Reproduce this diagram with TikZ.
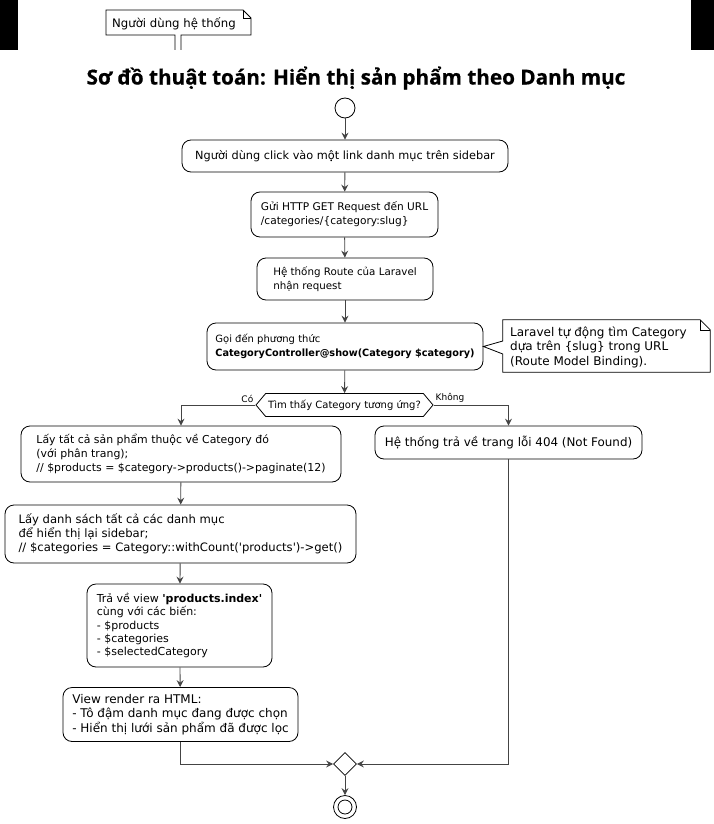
\documentclass[tikz,border=0pt]{standalone}
\usepackage{fontspec}
\setmainfont{DejaVu Sans}
\newfontfamily\nolig{DejaVu Sans}[Ligatures=ResetAll]
\newfontfamily\titlefont[BoldFeatures={FakeBold=0.6}]{Open Sans}
\usetikzlibrary{arrows.meta,shapes.geometric,shapes.symbols,calc}
\definecolor{linecol}{HTML}{444444}
\newcommand\fs[2]{\fontsize{#1}{#2}\selectfont}
\newcommand\sq{{\nolig\char39}}
\tikzset{
  box/.style={draw=black, fill=white, rounded corners=9pt, line width=0.8pt, align=left, inner sep=0pt},
  flow/.style={draw=linecol, line width=0.9pt, -{Stealth[length=7pt,width=7pt,inset=2.5pt]}},
  notebox/.style={draw=black, line width=0.8pt},
  lbl/.style={font=\fs{9}{11}, inner sep=1pt}
}
\begin{document}
\begin{tikzpicture}[x=1pt,y=-1pt]
\useasboundingbox (0,0) rectangle (714,824);
\fill[white] (0,0) rectangle (714,824);
% black bars
\fill[black] (0,0) rectangle (18,50);
\fill[black] (691,0) rectangle (714,50);
% top note
\draw[notebox] (175,50) -- (175,35) -- (106,35) -- (106,10) -- (243,10) -- (251,18) -- (251,35) -- (181,35) -- (181,50);
\draw[black, line width=0.6pt] (243,10) -- (243,18) -- (251,18);
\node[font=\fs{11.7}{13}, inner sep=0pt, anchor=base west] (unote) at (112,28) {Người dùng hệ thống};
% title
\node[font=\titlefont\bfseries\fs{20.7}{24}, inner sep=0pt] (title) at (356,78)
  {Sơ đồ thuật toán: Hiển thị sản phẩm theo Danh mục};
% start
\node[circle, draw=black, line width=0.8pt, minimum size=20pt, inner sep=0pt] (start) at (345,108) {};
\node[box, font=\fs{11.3}{14}, minimum width=326pt, minimum height=32pt] (n1) at (345,156)
  {Người dùng click vào một link danh mục trên sidebar};
\node[box, font=\fs{10.6}{14}, minimum width=187pt, minimum height=45pt] (n2) at (344.5,214.5)
  {Gửi HTTP GET Request đến URL\\/categories/\{category:slug\}};
\node[box, font=\fs{10.3}{14}, minimum width=176pt, minimum height=42pt] (n3) at (345,279)
  {Hệ thống Route của Laravel\\nhận request};
\node[box, font=\fs{10}{14}, minimum width=276pt, minimum height=47pt] (n4) at (345,346.5)
  {Gọi đến phương thức\\\scalebox{0.97}[1]{\textbf{CategoryController@show(Category \$category)}}};
% side note
\node[inner sep=0pt, minimum width=207pt, minimum height=52pt] (snote) at (606.5,346) {};
\draw[notebox, fill=white] (snote.north west) -- ($(snote.north east)+(-10,0)$) -- ($(snote.north east)+(0,10)$)
  -- (snote.south east) -- (snote.south west) -- ($(snote.west)+(0,8)$) -- (n4.east)
  -- ($(snote.west)+(0,-5)$) -- cycle;
\draw[black, line width=0.6pt] ($(snote.north east)+(-10,0)$) -- ($(snote.north east)+(-10,10)$) -- ($(snote.north east)+(0,10)$);
\node[align=left, font=\fs{12}{14.5}, inner sep=0pt, anchor=west] (snotetext) at (510,347)
  {Laravel tự động tìm Category\\dựa trên \{slug\} trong URL\\(Route Model Binding).};
% decision
\node[signal, signal to=east and west, signal pointer angle=100, draw=black, fill=white, line width=0.8pt,
  minimum width=177pt, minimum height=23pt, inner sep=0pt, font=\fs{10}{12}] (dec) at (344.5,405)
  {Tìm thấy Category tương ứng?};
\node[lbl, anchor=south east] (yes) at ($(dec.west)+(-1,-1)$) {Có};
\node[lbl, anchor=south west] (no) at ($(dec.east)+(1,-1)$) {Không};
% left branch
\node[box, font=\fs{10.9}{14}, minimum width=320pt, minimum height=56pt] (n5) at (181,454)
  {Lấy tất cả sản phẩm thuộc về Category đó\\(với phân trang);\\// \$products = \$category->products()->paginate(12)};
\node[box, font=\fs{11.6}{14}, minimum width=351pt, minimum height=58pt] (n7) at (180.5,534)
  {Lấy danh sách tất cả các danh mục\\để hiển thị lại sidebar;\\// \$categories = Category::withCount(\sq products\sq)->get()};
\node[box, font=\fs{11}{13.3}, minimum width=185pt, minimum height=83pt] (n8) at (179.5,625.5)
  {Trả về view \textbf{\sq products.index\sq}\\cùng với các biến:\\- \$products\\- \$categories\\- \$selectedCategory};
\node[box, font=\fs{12}{14.5}, minimum width=235pt, minimum height=54pt] (n9) at (180.5,714.5)
  {View render ra HTML:\\- Tô đậm danh mục đang được chọn\\- Hiển thị lưới sản phẩm đã được lọc};
% right branch
\node[box, font=\fs{11.9}{14}, minimum width=267pt, minimum height=33pt] (n6) at (508.5,442.5)
  {Hệ thống trả về trang lỗi 404 (Not Found)};
% merge and end
\node[diamond, draw=black, fill=white, line width=0.8pt, minimum size=23pt, inner sep=0pt] (merge) at (345,764) {};
\node[circle, draw=black, line width=0.8pt, minimum size=23pt, inner sep=0pt] (stop) at (345,807) {};
\node[circle, draw=black, line width=0.8pt, minimum size=14pt, inner sep=0pt] (stopin) at (345,807) {};
% connectors
\draw[flow] (start) -- (n1);
\draw[flow] (n1) -- (n2);
\draw[flow] (n2) -- (n3);
\draw[flow] (n3) -- (n4);
\draw[flow] (n4) -- (dec);
\draw[flow] (dec.west) -| (n5.north);
\draw[flow] (dec.east) -| (n6.north);
\draw[flow] (n5) -- (n7);
\draw[flow] (n7) -- (n8);
\draw[flow] (n8) -- (n9);
\draw[flow] (n9.south) |- (merge.west);
\draw[flow] (n6.south) |- (merge.east);
\draw[flow] (merge) -- (stop);
\end{tikzpicture}
\end{document}
